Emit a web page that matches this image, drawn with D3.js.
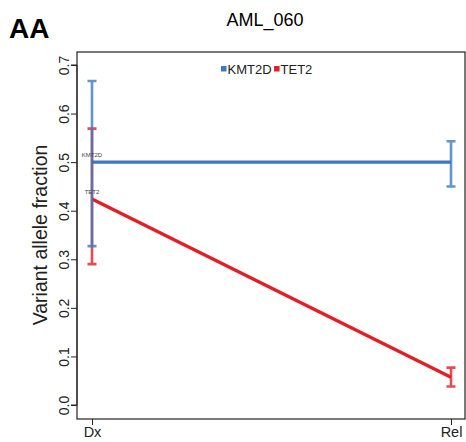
<!DOCTYPE html>
<html>
<head>
<meta charset="utf-8">
<script src="https://cdn.jsdelivr.net/npm/d3@7"></script>
<style>
  body { margin: 0; background: #fff; }
  text { font-family: "Liberation Sans", Arial, sans-serif; }
</style>
</head>
<body>
<div id="app"></div>
<script>
// data
const timepoints = ['Dx', 'Rel']
const genes = ['KMT2D', 'TET2']
const geneColors = ['#3b7bbf', '#e41e26']
const kmt2dVaf = [0.5, 0.5]
const kmt2dLow = [0.327, 0.45]
const kmt2dHigh = [0.667, 0.543]
const tet2Vaf = [0.424, 0.057]
const tet2Low = [0.29, 0.038]
const tet2High = [0.569, 0.077]
const yTicks = [0, 0.1, 0.2, 0.3, 0.4, 0.5, 0.6, 0.7]

const series = [
  { gene: genes[0], color: geneColors[0], vaf: kmt2dVaf, lo: kmt2dLow, hi: kmt2dHigh },
  { gene: genes[1], color: geneColors[1], vaf: tet2Vaf, lo: tet2Low, hi: tet2High }
]

const W = 466, H = 442
const box = { left: 77, top: 52, right: 465, bottom: 419 }

const svg = d3.select('#app').append('svg')
  .attr('width', W).attr('height', H)

const x = d3.scalePoint().domain(timepoints).range([92, 451])
const y = d3.scaleLinear().domain([0, 0.7]).range([405, 65])

// panel letter + title
svg.append('text').attr('x', 9).attr('y', 38)
  .style('font-size', '28px').style('font-weight', 'bold').text('AA')
svg.append('text').attr('x', 265).attr('y', 26)
  .attr('text-anchor', 'middle').style('font-size', '18px').text('AML_060')

// plot frame
svg.append('rect')
  .attr('x', box.left).attr('y', box.top)
  .attr('width', box.right - box.left).attr('height', box.bottom - box.top)
  .attr('fill', 'none').attr('stroke', '#222').attr('stroke-width', 1.2)

// y axis
const yAxis = svg.append('g').attr('transform', `translate(${box.left},0)`)
  .call(d3.axisLeft(y).tickValues(yTicks).tickFormat(d3.format('.1f')).tickSize(6))
yAxis.select('.domain').attr('d', `M-6,${y(0)}H0V${y(0.7)}H-6`).attr('stroke', '#222')
yAxis.selectAll('.tick line').attr('stroke', '#222')
yAxis.selectAll('.tick text')
  .style('font-size', '14px').attr('fill', '#222')
  .attr('transform', 'rotate(-90)')
  .attr('x', 0).attr('y', -8)
  .attr('dy', 0)
  .attr('text-anchor', 'middle')

svg.append('text')
  .attr('transform', `translate(47,${(y(0) + y(0.7)) / 2}) rotate(-90)`)
  .attr('text-anchor', 'middle').style('font-size', '19.5px').attr('fill', '#222')
  .text('Variant allele fraction')

// x axis
const xAxis = svg.append('g').attr('transform', `translate(0,${box.bottom})`)
  .call(d3.axisBottom(x).tickSize(6))
xAxis.select('.domain').remove()
xAxis.selectAll('.tick line').attr('stroke', '#222')
xAxis.selectAll('.tick text').style('font-size', '14.5px').attr('fill', '#222')
  .attr('y', 18).attr('dy', 0)

// lines
const line = d3.line().x((d, i) => x(timepoints[i])).y(d => y(d))
series.forEach(s => {
  svg.append('path').datum(s.vaf)
    .attr('d', line)
    .attr('fill', 'none').attr('stroke', s.color).attr('stroke-width', 3.4)
})

// error bars (tet2 first, kmt2d on top, translucent)
const capW = 4.5
;[series[1], series[0]].forEach(s => {
  const g = svg.append('g').attr('stroke', s.color).attr('stroke-width', 2.6)
    .attr('stroke-opacity', 0.8).attr('fill', 'none')
  timepoints.forEach((t, i) => {
    const cx = x(t)
    g.append('path').attr('d',
      `M${cx},${y(s.lo[i])}V${y(s.hi[i])}` +
      `M${cx - capW},${y(s.lo[i])}H${cx + capW}` +
      `M${cx - capW},${y(s.hi[i])}H${cx + capW}`)
  })
})

// tiny gene labels at Dx
series.forEach(s => {
  svg.append('text')
    .attr('x', x('Dx')).attr('y', y(s.vaf[0]) - 5)
    .attr('text-anchor', 'middle').style('font-size', '6px').attr('fill', '#444')
    .text(s.gene)
})

// legend
const legend = svg.append('g').attr('transform', 'translate(221,69)')
let lx = 0
series.forEach(s => {
  legend.append('rect').attr('x', lx).attr('y', -3).attr('width', 5.5).attr('height', 5.5)
    .attr('fill', s.color)
  const t = legend.append('text').attr('x', lx + 6.5).attr('y', 0)
    .attr('dy', '0.36em').style('font-size', '13px').attr('fill', '#222').text(s.gene)
  lx += 6.5 + t.node().getComputedTextLength() + 2.5
})
</script>
</body>
</html>
